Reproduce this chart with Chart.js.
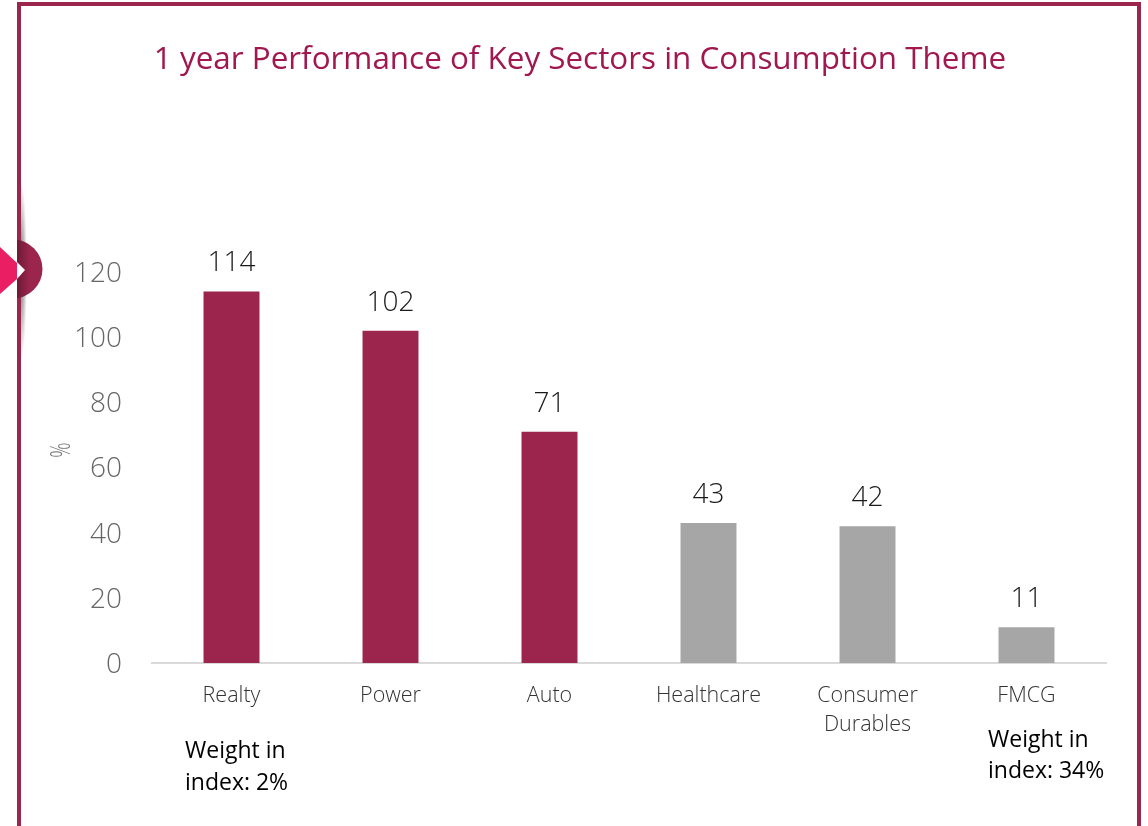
<!DOCTYPE html>
<html>
<head>
<meta charset="utf-8">
<title>1 year Performance of Key Sectors in Consumption Theme</title>
<script src="https://cdn.jsdelivr.net/npm/chart.js@4/dist/chart.umd.min.js"></script>
<style>
    html, body { margin: 0; padding: 0; background: #fff; }
    #wrap { position: relative; width: 1148px; height: 826px; overflow: hidden; }
</style>
</head>
<body>
<div id="wrap"><canvas id="myChart" width="1148" height="826"></canvas></div>
<script>
const sectors = ['Realty', 'Power', 'Auto', 'Healthcare', ['Consumer', 'Durables'], 'FMCG'];
const returns = [114, 102, 71, 43, 42, 11];
const barColors = ['#9c254d', '#9c254d', '#9c254d', '#a6a6a6', '#a6a6a6', '#a6a6a6'];
const yTicks = [0, 20, 40, 60, 80, 100, 120];
const weightNotes = [
    { lines: ['Weight in', 'index: 2%'], x: 185, y: [751, 783] },
    { lines: ['Weight in', 'index: 34%'], x: 988, y: [740, 771] }
];

const FONT = '"Open Sans", sans-serif';
const MAROON = '#9c254d';

// Frame and the round tab sitting on its left edge
const framePlugin = {
    id: 'frame',
    beforeDraw(chart) {
        const c = chart.ctx;
        c.save();
        c.fillStyle = MAROON;
        c.fillRect(17, 2, 1124, 4);
        c.fillRect(17, 2, 4, 824);
        c.fillRect(1137, 2, 4, 824);
        c.restore();

        // soft shadow fading up and down from the tab
        c.save();
        c.beginPath();
        c.rect(21, 180, 12, 180);
        c.clip();
        c.translate(21, 270);
        c.scale(6 / 90, 1);
        const shadow = c.createRadialGradient(0, 0, 0, 0, 0, 90);
        shadow.addColorStop(0, 'rgba(60,60,60,0.75)');
        shadow.addColorStop(1, 'rgba(60,60,60,0)');
        c.fillStyle = shadow;
        c.beginPath();
        c.arc(0, 0, 90, 0, Math.PI * 2);
        c.fill();
        c.restore();

        // half disc
        c.save();
        c.beginPath();
        c.rect(17, 230, 40, 80);
        c.clip();
        c.beginPath();
        c.arc(13, 269, 29.5, 0, Math.PI * 2);
        const disc = c.createLinearGradient(17, 0, 30, 0);
        disc.addColorStop(0, '#6d1a38');
        disc.addColorStop(1, MAROON);
        c.fillStyle = disc;
        c.fill();
        c.restore();

        c.save();
        c.fillStyle = '#fff';
        c.beginPath();
        c.moveTo(17, 262);
        c.lineTo(25, 270);
        c.lineTo(17, 279);
        c.closePath();
        c.fill();
        c.fillStyle = '#e91e63';
        c.beginPath();
        c.moveTo(0, 247);
        c.lineTo(17, 263);
        c.lineTo(17, 279);
        c.lineTo(0, 294);
        c.closePath();
        c.fill();
        c.restore();
    }
};

// Value above each bar, unit mark, weight notes under the first and last category
const labelPlugin = {
    id: 'labels',
    afterDatasetsDraw(chart) {
        const c = chart.ctx;
        const meta = chart.getDatasetMeta(0);
        c.save();
        c.textAlign = 'center';
        c.textBaseline = 'middle';
        c.fillStyle = '#1a1a1a';
        c.font = '300 28px ' + FONT;
        meta.data.forEach((bar, i) => {
            c.fillText(returns[i], bar.x, bar.y - 28);
        });

        // the unit sign is stretched along its height
        c.save();
        c.translate(62, 450);
        c.rotate(-Math.PI / 2);
        c.scale(0.9, 1.35);
        c.fillStyle = '#737373';
        c.font = '300 21px ' + FONT;
        c.fillText('%', 0, 0);
        c.restore();

        c.textAlign = 'left';
        c.fillStyle = '#000';
        c.font = '500 23px ' + FONT;
        weightNotes.forEach(note => {
            note.lines.forEach((line, i) => c.fillText(line, note.x, note.y[i]));
        });
        c.restore();
    }
};

const ctx = document.getElementById('myChart').getContext('2d');
const myChart = new Chart(ctx, {
    type: 'bar',
    data: {
        labels: sectors,
        datasets: [{
            data: returns,
            backgroundColor: barColors,
            barPercentage: 0.352,
            categoryPercentage: 1
        }]
    },
    plugins: [framePlugin, labelPlugin],
    options: {
        responsive: false,
        animation: false,
        layout: { padding: { left: 54, right: 42, top: 0, bottom: 0 } },
        plugins: {
            legend: { display: false },
            tooltip: { enabled: false },
            title: {
                display: true,
                text: '1 year Performance of Key Sectors in Consumption Theme',
                color: '#a0184f',
                font: { family: FONT, size: 31.4, weight: '400', lineHeight: 1.2 },
                padding: { top: 41, bottom: 193.3 }
            }
        },
        scales: {
            x: {
                grid: { display: false, drawTicks: false },
                border: { color: '#d9d9d9', width: 2 },
                afterFit(scale) { scale.height = 163; },
                ticks: {
                    color: '#333333',
                    padding: 18,
                    maxRotation: 0,
                    font: { family: FONT, size: 21.5, weight: '300', lineHeight: 1.35 }
                }
            },
            y: {
                min: 0,
                max: 120,
                afterFit(scale) { scale.width = 98; },
                afterBuildTicks(scale) { scale.ticks = yTicks.map(v => ({ value: v })); },
                grid: { display: false, drawTicks: false },
                border: { display: false },
                ticks: {
                    color: '#666666',
                    padding: 30,
                    labelOffset: 2,
                    font: { family: FONT, size: 28, weight: '300' }
                }
            }
        }
    }
});
</script>
</body>
</html>
